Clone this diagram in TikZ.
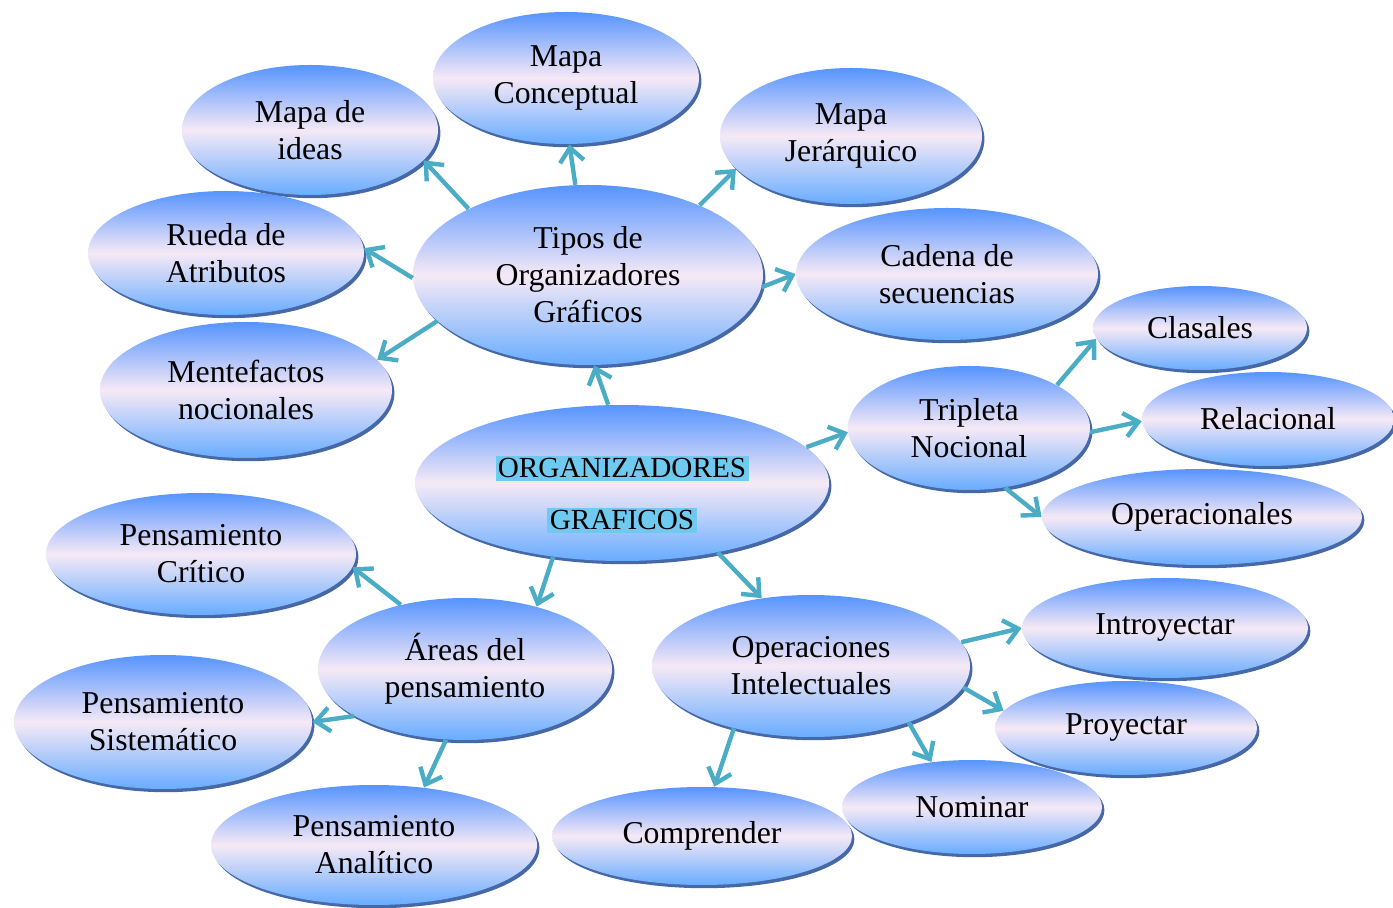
\documentclass[tikz,border=0pt]{standalone}
\usepackage{fontspec}
\setmainfont{Liberation Serif}
\usepackage{xcolor}
\usetikzlibrary{shapes.geometric,shadows,arrows.meta}

\definecolor{azulsup}{RGB}{86,148,255}
\definecolor{azulinf}{RGB}{104,172,255}
\definecolor{rosado}{RGB}{246,233,246}
\definecolor{sombra}{RGB}{38,78,150}
\definecolor{flecha}{RGB}{75,172,198}
\definecolor{brillo}{RGB}{112,202,240}

\newcommand{\resalta}[1]{\smash{\raisebox{-10.5pt}{\setlength{\fboxsep}{1.2pt}\colorbox{brillo}{#1}}}}

\begin{document}
\begin{tikzpicture}[
	x=0.5pt, y=-0.5pt,
	burbuja/.style={
		ellipse,             % globo azul
		inner sep=0pt,
		top color=azulsup,
		bottom color=azulinf,
		middle color=rosado,
		drop shadow={shadow xshift=1.2pt, shadow yshift=-1.6pt, fill=sombra, opacity=0.85},
		align=center,
		font=\fontsize{15.9}{18.5}\selectfont
	},
	tam/.style 2 args={minimum width=#1pt, minimum height=#2pt},
	flechaaz/.style={        % flecha turquesa
		-{Straight Barb[length=7pt,width=12pt]},
		flecha, line width=2.2pt
	}
	]
	\useasboundingbox (0,0) rectangle (1393,908);

	% --- CENTRO ---
	\node[burbuja, tam={207}{78}, font=\fontsize{14.6}{26}\selectfont] (org) at (622,483)
		{\resalta{ORGANIZADORES}\\\resalta{GRAFICOS}};

	% --- TIPOS DE ORGANIZADORES ---
	\node[burbuja, tam={175}{90}] (tipos) at (588,275) {Tipos de\\Organizadores\\Gráficos};
	\node[burbuja, tam={133}{66}] (conceptual) at (566,78) {Mapa\\Conceptual};
	\node[burbuja, tam={128}{65}] (ideas) at (310,130) {Mapa de\\ideas};
	\node[burbuja, tam={131}{68}] (jerarquico) at (851,136) {Mapa\\Jerárquico};
	\node[burbuja, tam={138}{62}] (rueda) at (226,253) {Rueda de\\Atributos};
	\node[burbuja, tam={151}{66}] (cadena) at (947,274) {Cadena de\\secuencias};
	\node[burbuja, tam={146}{68}] (mentefactos) at (246,390) {Mentefactos\\nocionales};

	% --- TRIPLETA ---
	\node[burbuja, tam={121}{62}] (tripleta) at (969,428) {Tripleta\\Nocional};
	\node[burbuja, tam={107}{42}] (clasales) at (1200,328) {Clasales};
	\node[burbuja, tam={126}{47}] (relacional) at (1268,419) {Relacional};
	\node[burbuja, tam={160}{48}] (operacionales) at (1202,517) {Operacionales};

	% --- AREAS DEL PENSAMIENTO ---
	\node[burbuja, tam={147}{71}] (areas) at (465,669) {Áreas del\\pensamiento};
	\node[burbuja, tam={155}{61}] (critico) at (201,554) {Pensamiento\\Crítico};
	\node[burbuja, tam={149}{67}] (sistematico) at (163,722) {Pensamiento\\Sistemático};
	\node[burbuja, tam={163}{60}] (analitico) at (374,845) {Pensamiento\\Analítico};

	% --- OPERACIONES INTELECTUALES ---
	\node[burbuja, tam={159}{71}] (operaciones) at (811,666) {Operaciones\\Intelectuales};
	\node[burbuja, tam={143}{50}] (introyectar) at (1165,628) {Introyectar};
	\node[burbuja, tam={131}{47}] (proyectar) at (1126,728) {Proyectar};
	\node[burbuja, tam={130}{47}] (nominar) at (972,807) {Nominar};
	\node[burbuja, tam={150}{49}] (comprender) at (702,836) {Comprender};

	% --- FLECHAS ---
	\draw[flechaaz] (org.100) -- (tipos.-86);
	\draw[flechaaz] (tipos.98) -- (conceptual.-87);
	\draw[flechaaz] (tipos.151) -- (ideas.-15);
	\draw[flechaaz] (tipos.32) -- (jerarquico.-164);
	\draw[flechaaz] (tipos.181) -- (rueda.2);
	\draw[flechaaz] (tipos.197) -- (mentefactos.13);
	\draw[flechaaz] (tipos.-4) -- (cadena.180);

	\draw[flechaaz] (org.11) -- (tripleta.182);
	\draw[flechaaz] (tripleta.26) -- (clasales.186);
	\draw[flechaaz] (tripleta.-2) -- (relacional.181);
	\draw[flechaaz] (tripleta.-59) -- (operacionales.180);

	\draw[flechaaz] (org.-133) -- (areas.41);
	\draw[flechaaz] (areas.135) -- (critico.-5);
	\draw[flechaaz] (areas.203) -- (sistematico.0);
	\draw[flechaaz] (areas.-105) -- (analitico.49);

	\draw[flechaaz] (org.-36) -- (operaciones.126);
	\draw[flechaaz] (operaciones.9) -- (introyectar.180);
	\draw[flechaaz] (operaciones.-8) -- (proyectar.172);
	\draw[flechaaz] (operaciones.-30) -- (nominar.132);
	\draw[flechaaz] (operaciones.-141) -- (comprender.76);

\end{tikzpicture}
\end{document}
